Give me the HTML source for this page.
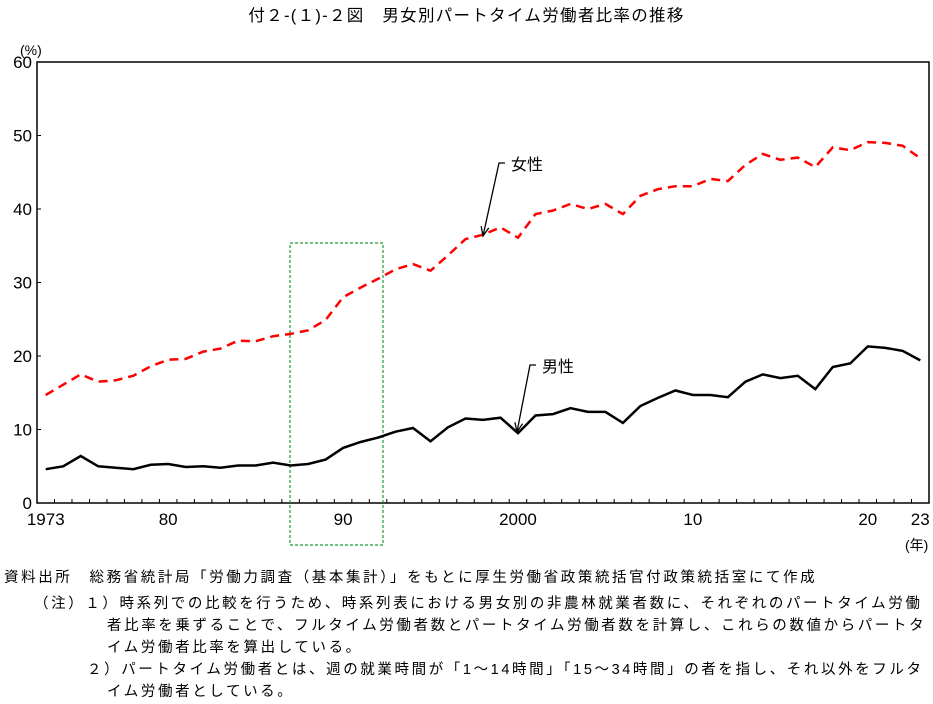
<!DOCTYPE html>
<html><head><meta charset="utf-8"><style>
body{margin:0;width:933px;height:704px;background:#fff;overflow:hidden;font-family:"Liberation Sans","Noto Sans CJK JP",sans-serif;color:#000}
.t{position:absolute;white-space:nowrap}
.n{font-size:14.5px;line-height:22px;letter-spacing:2.6px}
</style></head><body>
<div class="t" style="left:0;width:933px;text-align:center;top:2px;font-size:16.5px;letter-spacing:1.3px">付２-(１)-２図　男女別パートタイム労働者比率の推移</div>
<svg id="c" width="933" height="560" style="position:absolute;left:0;top:0"></svg>
<div class="t n" style="left:4px;top:567px">資料出所　総務省統計局「労働力調査（基本集計）」をもとに厚生労働省政策統括官付政策統括室にて作成</div>
<div class="t n" style="left:34px;top:593px">（注）１）時系列での比較を行うため、時系列表における男女別の非農林就業者数に、それぞれのパートタイム労働</div>
<div class="t n" style="left:107px;top:615px">者比率を乗ずることで、フルタイム労働者数とパートタイム労働者数を計算し、これらの数値からパートタ</div>
<div class="t n" style="left:107px;top:637px">イム労働者比率を算出している。</div>
<div class="t n" style="left:87px;top:659px">２）パートタイム労働者とは、週の就業時間が「1～14時間」「15～34時間」の者を指し、それ以外をフルタ</div>
<div class="t n" style="left:107px;top:681px">イム労働者としている。</div>
<script>
const years=[];for(let y=1973;y<=2023;y++)years.push(y);
const female=[14.7,16.1,17.5,16.5,16.7,17.3,18.6,19.5,19.6,20.6,21.0,22.1,22.0,22.7,23.0,23.5,24.9,28.0,29.3,30.5,31.8,32.5,31.6,33.7,35.9,36.5,37.5,36.1,39.3,39.8,40.7,40.0,40.7,39.3,41.8,42.7,43.1,43.1,44.1,43.8,46.0,47.5,46.7,47.0,45.7,48.4,48.0,49.1,49.0,48.6,46.9];
const male=[4.6,5.0,6.4,5.0,4.8,4.6,5.2,5.3,4.9,5.0,4.8,5.1,5.1,5.5,5.1,5.3,5.9,7.5,8.3,8.9,9.7,10.2,8.4,10.3,11.5,11.3,11.6,9.5,11.9,12.1,12.9,12.4,12.4,10.9,13.2,14.3,15.3,14.7,14.7,14.4,16.5,17.5,17.0,17.3,15.5,18.5,19.0,21.3,21.1,20.7,19.4];
const yTicks=[0,10,20,30,40,50,60];
const xLabels=[[1973,"1973"],[1980,"80"],[1990,"90"],[2000,"2000"],[2010,"10"],[2020,"20"],[2023,"23"]];
const L=37,R=929,T=62,B=503;
const X=y=>L+(y-1973+0.5)*(R-L)/51;
const Y=v=>B-v*(B-T)/60;
const s=document.getElementById('c');const ns="http://www.w3.org/2000/svg";
function mk(tag,at,txt){const e=document.createElementNS(ns,tag);for(const k in at)e.setAttribute(k,at[k]);if(txt)e.textContent=txt;s.appendChild(e);return e;}
let e=mk('rect',{x:L,y:T,width:R-L,height:B-T,fill:'none',stroke:'#000','stroke-width':1.5});


yTicks.forEach(v=>{e=mk('line',{x1:L,x2:L+4,y1:Y(v),y2:Y(v),stroke:'#000'});


e=mk('text',{x:L-5,y:Y(v)+6,'text-anchor':'end','font-size':17},String(v));

});
for(let i=1;i<51;i++){e=mk('line',{x1:L+i*(R-L)/51,x2:L+i*(R-L)/51,y1:B,y2:B-4,stroke:'#000'});

}
xLabels.forEach(([y,t])=>{e=mk('text',{x:X(y),y:B+22,'text-anchor':'middle','font-size':17},t);

});
e=mk('text',{x:20,y:55,'font-size':14},'(%)');


e=mk('text',{x:905,y:550,'font-size':14},'(年)');


e=mk('rect',{x:290,y:243,width:93,height:302,fill:'none',stroke:'#1a9a3a','stroke-width':1.2,'stroke-dasharray':'3,2'});


const pts=a=>a.map((v,i)=>X(years[i]).toFixed(1)+','+Y(v).toFixed(1)).join(' ');
e=mk('polyline',{points:pts(female),fill:'none',stroke:'#f00','stroke-width':2.5,'stroke-dasharray':'9,6'});


e=mk('polyline',{points:pts(male),fill:'none',stroke:'#000','stroke-width':2.5});


function ann(name,tx,ty,ax,ay,label){
 const cx=tx-12,cy=ty;
 e=mk('polyline',{points:`${tx-6},${cy} ${cx},${cy} ${ax},${ay}`,fill:'none',stroke:'#000','stroke-width':1.3});
 
 
 const ang=Math.atan2(ay-cy,ax-cx);
 const h=(d)=>`${ax-10*Math.cos(ang+d)},${ay-10*Math.sin(ang+d)}`;
 e=mk('polyline',{points:`${h(0.4)} ${ax},${ay} ${h(-0.4)}`,fill:'none',stroke:'#000','stroke-width':1.3});
 
 
 e=mk('text',{x:tx,y:ty+7,'font-size':16},label);
 
 
}
ann('female',511,163,483,236,'女性');
ann('male',542,365,517,432,'男性');
</script>
</body></html>
